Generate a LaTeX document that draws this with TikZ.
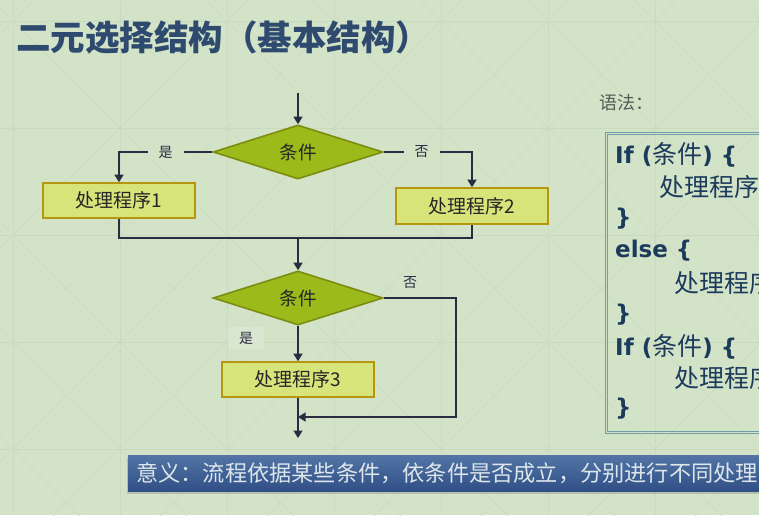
\documentclass[tikz,border=0pt]{standalone}
\usepackage{fontspec}
\setmainfont{Liberation Sans}
\newfontfamily\cjk{Noto Sans CJK SC}
\newfontfamily\codefont{DejaVu Sans}
\usetikzlibrary{shapes.geometric,arrows.meta,shadows}

\definecolor{bg}{HTML}{D3E3C8}
\definecolor{gridc}{HTML}{C9DABE}
\definecolor{ink}{HTML}{2A2D42}
\definecolor{titlec}{HTML}{2E4A6F}
\definecolor{condfill}{HTML}{9CBB1A}
\definecolor{conddraw}{HTML}{7C8C10}
\definecolor{procfill}{HTML}{D6E47A}
\definecolor{procdraw}{HTML}{B5960E}
\definecolor{codeink}{HTML}{1C3B5C}
\definecolor{codeframe}{HTML}{729CAA}
\definecolor{bantop}{HTML}{5374A5}
\definecolor{banbot}{HTML}{2F4F86}
\definecolor{bantext}{HTML}{DDE6EA}
\definecolor{syntaxc}{HTML}{555A55}

\tikzset{
  cond/.style={diamond, draw=conddraw, line width=1.6pt, fill=condfill,
    minimum width=170pt, minimum height=48pt, inner sep=0pt,
    font=\cjk\fontsize{18.5}{20}\selectfont, text=black!85},
  proc/.style={rectangle, draw=procdraw, line width=1.6pt, fill=procfill,
    minimum width=152pt, minimum height=35pt, inner sep=0pt,
    font=\cjk\fontsize{19}{21}\selectfont, text=black!85},
  flow/.style={draw=ink, line width=1.3pt},
  arr/.style={flow, -{Triangle[width=9pt,length=7.5pt]}},
  lbl/.style={font=\cjk\fontsize{14}{16}\selectfont, text=ink, inner sep=1pt},
  codeline/.style={anchor=west, inner sep=0pt, text=codeink},
  faint/.style={draw=gridc, line width=0.5pt},
}

\newcommand{\kw}[1]{{\codefont\bfseries\fontsize{23}{26}\selectfont #1}}
\newcommand{\zh}[1]{{\cjk\fontsize{25}{28}\selectfont #1}}

\begin{document}
\begin{tikzpicture}[x=1pt, y=-1pt]
  \useasboundingbox (0,0) rectangle (759,515);
  \clip (0,0) rectangle (759,515);
  \fill[bg] (0,0) rectangle (759,515);

  % faint background lattice
  \foreach \k in {0,...,6} \draw[faint] ({13+107*\k},0) -- ({13+107*\k},515);
  \foreach \k in {0,...,4} \draw[faint] (0,{21+107*\k}) -- (759,{21+107*\k});
  \foreach \k in {-6,...,8} \draw[faint] ({-8+107*\k-20},-20) -- ({-8+107*\k+600},600);
  \foreach \k in {-1,...,13} \draw[faint] ({34+107*\k+20},-20) -- ({34+107*\k-600},600);

  % heading
  \node[anchor=west, inner sep=0pt, text=titlec,
        font=\cjk\bfseries\fontsize{34.5}{40}\selectfont] (title) at (16,38)
        {二元选择结构（基本结构）};

  % first selection
  \coordinate (start) at (298,93);
  \node[cond] (d1) at (298,152) {条件};
  \node[proc] (b1) at (119,200.5) {处理程序1};
  \node[proc, minimum height=36pt] (b2) at (472,206) {处理程序2};
  \coordinate (merge) at (298,238);

  \draw[arr] (start) -- (d1.north);
  \draw[arr] (d1.west) -- node[lbl, fill=bg, minimum width=36pt] {是}
             (b1.north |- d1.west) -- (b1.north);
  \draw[arr] (d1.east) -- node[lbl, fill=bg, minimum width=36pt, pos=0.43] {否}
             (b2.north |- d1.east) -- (b2.north);
  \draw[flow] (b1.south) -- (b1.south |- merge) -- (b2.south |- merge) -- (b2.south);

  % second selection
  \node[cond] (d2) at (298,298) {条件};
  \node[proc] (b3) at (298,379.5) {处理程序3};
  \coordinate (loop) at (456,298);
  \coordinate (join) at (298,417);
  \coordinate (end) at (298,438);

  \draw[arr] (merge) -- (d2.north);
  \draw[arr] (d2.south) -- (b3.north);
  \node[lbl, fill=bg!85!white, minimum width=36pt, minimum height=22pt] (yes2) at (246,338) {是};
  \node[lbl] (no2) at (410,283) {否};
  \draw[arr] (d2.east) -- (loop) -- (loop |- join) -- (join);
  \draw[arr] (b3.south) -- (end);

  % syntax panel
  \node[anchor=west, inner sep=0pt, text=syntaxc,
        font=\cjk\fontsize{18}{20}\selectfont] (syntax) at (599,103) {语法：};
  \node[draw=codeframe, double=bg, double distance=1.6pt, line width=1pt,
        anchor=north west, minimum width=300pt, minimum height=299pt,
        inner sep=0pt] (code) at (606,133) {};
  \node[codeline] (c1) at (615,155) {\kw{If (}\zh{条件}\kw{) \{}};
  \node[codeline] (c2) at (659,187) {\zh{处理程序1}};
  \node[codeline] (c3) at (615,219) {\kw{\}}};
  \node[codeline] (c4) at (615,251) {\kw{else \{}};
  \node[codeline] (c5) at (674,283) {\zh{处理程序2}};
  \node[codeline] (c6) at (615,315) {\kw{\}}};
  \node[codeline] (c7) at (615,347) {\kw{If (}\zh{条件}\kw{) \{}};
  \node[codeline] (c8) at (674,378) {\zh{处理程序3}};
  \node[codeline] (c9) at (615,409) {\kw{\}}};

  % meaning banner
  \node[anchor=north west, minimum height=36pt, text width=700pt, align=left,
        inner xsep=8pt, inner ysep=0pt, top color=bantop, bottom color=banbot,
        drop shadow={shadow xshift=-1.5pt, shadow yshift=-2.5pt, opacity=0.35},
        text=bantext, font=\cjk\fontsize{22.2}{26}\selectfont] (note) at (128,455)
        {意义：流程依据某些条件，依条件是否成立，分别进行不同处理};
\end{tikzpicture}
\end{document}
